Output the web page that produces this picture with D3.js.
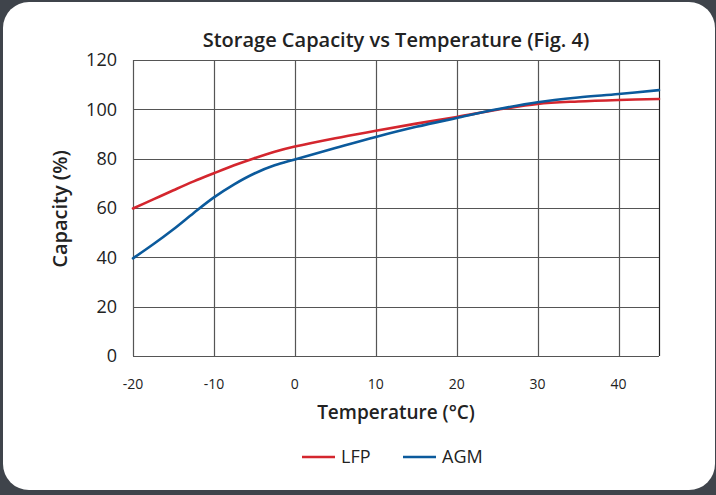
<!DOCTYPE html>
<html><head><meta charset="utf-8">
<script src="https://cdn.jsdelivr.net/npm/d3@7"></script>
<style>
html,body{margin:0;padding:0;background:#3f444b;}
svg{display:block;}
</style></head>
<body>
<svg id="chart" width="716" height="495"></svg>
<script>
const temps = [-20, -17.5, -15, -12.5, -10, -7.5, -5, -2.5, 0, 5, 10, 15, 20, 25, 30, 35, 40, 45];
const lfp   = [59.8, 63.5, 67.2, 70.8, 74.1, 77.3, 80.2, 82.8, 84.9, 88.3, 91.3, 94.2, 96.9, 99.8, 102.2, 103.2, 103.8, 104.2];
const agm   = [39.6, 45.3, 51.4, 58.0, 64.3, 69.6, 74.0, 77.3, 79.7, 84.3, 88.8, 92.9, 96.5, 100, 102.9, 104.8, 106.2, 107.8];
const xTicks = [-20, -10, 0, 10, 20, 30, 40];
const yTicks = [0, 20, 40, 60, 80, 100, 120];
const seriesNames = ["LFP", "AGM"];
const seriesColors = ["#d4262e", "#0b5a9c"];

(function(){
const svg = d3.select("#chart");
svg.append("rect").attr("x",3).attr("y",2).attr("width",712).attr("height",488)
  .attr("rx",26).attr("ry",26).attr("fill","#ffffff");

const pL=133, pR=659, pT=60, pB=356;
const x = d3.scaleLinear().domain([-20,45]).range([pL,pR]);
const y = d3.scaleLinear().domain([0,120]).range([pB,pT]);
const FF = "Open Sans, sans-serif";

const g = svg.append("g");
g.selectAll(".vg").data(xTicks.concat([45])).enter().append("line")
  .attr("x1",d=>Math.round(x(d))+0.5).attr("x2",d=>Math.round(x(d))+0.5)
  .attr("y1",pT).attr("y2",pB).attr("stroke",d=>d===45?"#222":"#555").attr("stroke-width",1.2);
g.selectAll(".hg").data(yTicks).enter().append("line")
  .attr("y1",d=>Math.round(y(d))+0.5).attr("y2",d=>Math.round(y(d))+0.5)
  .attr("x1",pL).attr("x2",pR).attr("stroke","#555").attr("stroke-width",1.2);

g.selectAll(".yt").data(yTicks).enter().append("text")
  .attr("x",117).attr("y",d=>y(d)).attr("dy","0.35em").attr("text-anchor","end")
  .attr("font-family",FF).attr("font-size",18).attr("fill","#222")
  .text(d=>d);
g.selectAll(".xt").data(xTicks).enter().append("text")
  .attr("x",d=>x(d)).attr("y",389).attr("text-anchor","middle")
  .attr("font-family",FF).attr("font-size",14).attr("fill","#222")
  .text(d=>d);

svg.append("text").attr("x",396).attr("y",47).attr("text-anchor","middle")
  .attr("font-family",FF).attr("font-weight","600").attr("font-size",20).attr("fill","#222")
  .text("Storage Capacity vs Temperature (Fig. 4)");
svg.append("text").attr("x",396).attr("y",419).attr("text-anchor","middle")
  .attr("font-family",FF).attr("font-weight","600").attr("font-size",19).attr("fill","#222")
  .text("Temperature (°C)");
svg.append("text").attr("transform","translate(67,209) rotate(-90)").attr("text-anchor","middle")
  .attr("font-family",FF).attr("font-weight","600").attr("font-size",20).attr("fill","#222")
  .text("Capacity (%)");

const line = d3.line().x((d,i)=>x(temps[i])).y(d=>y(d)).curve(d3.curveCatmullRom.alpha(0.5));
[lfp, agm].forEach((s,k)=>{
  svg.append("path").datum(s).attr("d",line).attr("fill","none")
    .attr("stroke",seriesColors[k]).attr("stroke-width",2.6).attr("stroke-linecap","round");
});

const lx = [302, 403];
seriesNames.forEach((n,k)=>{
  svg.append("line").attr("x1",lx[k]).attr("x2",lx[k]+33).attr("y1",457).attr("y2",457)
    .attr("stroke",seriesColors[k]).attr("stroke-width",2.6);
  svg.append("text").attr("x",lx[k]+39).attr("y",457).attr("dy","0.36em")
    .attr("font-family",FF).attr("font-size",18).attr("fill","#222").text(n);
});
})();
</script>
</body></html>
